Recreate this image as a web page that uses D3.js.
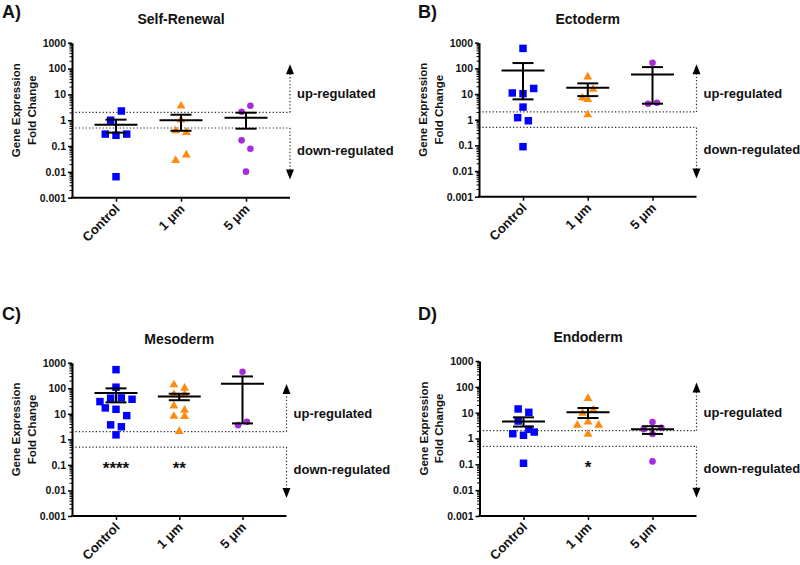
<!DOCTYPE html>
<html><head><meta charset="utf-8">
<script src="https://cdn.jsdelivr.net/npm/d3@7/dist/d3.min.js"></script>
<style>
body{margin:0;background:#fff}
svg text{font-family:"Liberation Sans",Arial,sans-serif;font-weight:bold;fill:#111}
</style>
</head><body>
<svg id="chart" width="800" height="565"></svg>
<script>
// ---------- data ----------
const groups = ["Control", "1 \u03bcm", "5 \u03bcm"];
const yTicks = [1000, 100, 10, 1, 0.1, 0.01, 0.001];
const yTickLabels = ["1000", "100", "10", "1", "0.1", "0.01", "0.001"];
const panelLetters = ["A)", "B)", "C)", "D)"];
const panelTitles = ["Self-Renewal", "Ectoderm", "Mesoderm", "Endoderm"];
const yTitleLines = ["Gene Expression", "Fold Change"];
const upText = "up-regulated", downText = "down-regulated";

// A) Self-Renewal fold changes
const selfRenewalControl = [1.0, 2.27, 0.29, 0.26, 0.29, 0.0065];
const selfRenewal1um = [3.8, 1.1, 0.42, 0.36, 0.03, 0.049];
const selfRenewal5um = [2.13, 3.6, 0.166, 0.079, 0.0102];
const selfRenewalMean = [0.67, 1.0, 1.25];
const selfRenewalHigh = [1.05, 1.63, 1.95];
const selfRenewalLow = [0.33, 0.39, 0.47];
const selfRenewalSig = ["", "", ""];

// B) Ectoderm
const ectodermControl = [600, 11, 10.3, 16.5, 3.1, 1.2, 0.91, 0.089];
const ectoderm1um = [50, 7.6, 6.6, 16.5, 1.7];
const ectoderm5um = [166, 4.2, 4.6];
const ectodermMean = [83, 17.6, 58];
const ectodermHigh = [161, 26, 112];
const ectodermLow = [6.2, 8.3, 4.2];
const ectodermSig = ["", "", ""];

// C) Mesoderm
const mesodermControl = [535, 110, 30, 41, 42, 37, 17, 15, 8.5, 3.7, 3.1, 1.5];
const mesoderm1um = [147, 109, 60, 60, 22, 15, 8.6, 8.5, 2.2];
const mesoderm5um = [440, 3.6, 4.9];
const mesodermMean = [65, 48, 150];
const mesodermHigh = [99, 61, 290];
const mesodermLow = [28, 34, 4.2];
const mesodermSig = ["****", "**", ""];

// D) Endoderm
const endodermControl = [13.9, 10.3, 4.75, 2.27, 1.53, 1.33, 1.78, 0.11];
const endoderm1um = [38, 10.3, 13.9, 3.55, 4.75, 3.55, 1.58];
const endoderm5um = [2.3, 4.35, 2.6, 1.5, 0.13];
const endodermMean = [4.6, 10.3, 2.26];
const endodermHigh = [6.6, 15.2, 3.0];
const endodermLow = [2.9, 6.2, 1.5];
const endodermSig = ["", "*", ""];

// reference lines / annotation levels (fold change)
const upThreshold = 2, downThreshold = 0.5;
const upArrowTip = 146, downArrowTip = 0.0051;
const upLabelAt = 7, downLabelAt = 0.045;
const sigLevel = 0.1;

// ---------- layout ----------
const panels = [
  {letter: panelLetters[0], title: panelTitles[0], data: [selfRenewalControl, selfRenewal1um, selfRenewal5um],
   mean: selfRenewalMean, hi: selfRenewalHigh, lo: selfRenewalLow, sig: selfRenewalSig,
   box: {xl: 72, xr: 290, yt: 42.7, yb: 197.7}, lx: 2, ly: 18.3},
  {letter: panelLetters[1], title: panelTitles[1], data: [ectodermControl, ectoderm1um, ectoderm5um],
   mean: ectodermMean, hi: ectodermHigh, lo: ectodermLow, sig: ectodermSig,
   box: {xl: 479, xr: 696.5, yt: 42.7, yb: 196.7}, lx: 418, ly: 18.3},
  {letter: panelLetters[2], title: panelTitles[2], data: [mesodermControl, mesoderm1um, mesoderm5um],
   mean: mesodermMean, hi: mesodermHigh, lo: mesodermLow, sig: mesodermSig,
   box: {xl: 72, xr: 286.5, yt: 362.7, yb: 516}, lx: 2, ly: 320},
  {letter: panelLetters[3], title: panelTitles[3], data: [endodermControl, endoderm1um, endoderm5um],
   mean: endodermMean, hi: endodermHigh, lo: endodermLow, sig: endodermSig,
   box: {xl: 479.5, xr: 696.5, yt: 361, yb: 516}, lx: 418, ly: 320}
];

const colors = ["#0000ff", "#ff8a10", "#a52ae0"];
const shapes = [d3.symbolSquare, d3.symbolTriangle, d3.symbolCircle];
const shapeSizes = [56, 34, 34];
const spacings = [10.7, 10.7, 8.8];

const svg = d3.select("#chart");

// Prism-like column scatter: rows of close values are spread symmetrically
function columnOffsets(values, y, spacing, rowHeight) {
  const order = values.map((v, i) => i).sort((a, b) => values[b] - values[a]);
  const rows = [];
  let cur = null;
  order.forEach(i => {
    const py = y(values[i]);
    if (cur && py - cur.anchor <= rowHeight) cur.members.push(i);
    else { cur = {anchor: py, members: [i]}; rows.push(cur); }
  });
  const off = new Array(values.length).fill(0);
  rows.forEach(r => {
    r.members.sort((a, b) => a - b);
    const n = r.members.length;
    r.members.forEach((m, k) => off[m] = (k - (n - 1) / 2) * spacing);
  });
  return off;
}

const minorTicks = [];
for (let e = -3; e < 3; e++) for (let m = 2; m <= 9; m++) minorTicks.push(m * Math.pow(10, e));

panels.forEach(p => {
  const {xl, xr, yt, yb} = p.box;
  const g = svg.append("g");
  const y = d3.scaleLog().domain([0.001, 1000]).range([yb, yt]);
  const inset = 44;
  const step = (xr - xl - 2 * inset) / (groups.length - 1);
  const x = d3.scalePoint().domain(groups).range([xl, xr]).padding(inset / step);

  // panel letter & title
  g.append("text").attr("x", p.lx).attr("y", p.ly).style("font-size", "18px").text(p.letter);
  g.append("text").attr("x", (xl + xr) / 2).attr("y", yt - 19).attr("text-anchor", "middle")
    .style("font-size", "14px").text(p.title);

  // y title
  const cy = (yt + yb) / 2 - 10;
  yTitleLines.forEach((t, i) => {
    g.append("text").attr("transform", `translate(${xl - 56 + i * 15.5},${cy}) rotate(-90)`)
      .attr("text-anchor", "middle").attr("dominant-baseline", "central")
      .style("font-size", "11.5px").text(t);
  });

  // threshold dotted lines
  const dot = "1.3,2.1";
  [upThreshold, downThreshold].forEach(v => {
    g.append("line").attr("x1", xl).attr("x2", xr).attr("y1", y(v)).attr("y2", y(v))
      .attr("stroke", "#333").attr("stroke-width", 1.2).attr("stroke-dasharray", dot);
  });
  // arrows
  const ax = xr;
  g.append("line").attr("x1", ax).attr("x2", ax).attr("y1", y(upThreshold)).attr("y2", y(upArrowTip) + 9)
    .attr("stroke", "#333").attr("stroke-width", 1.2).attr("stroke-dasharray", dot);
  g.append("line").attr("x1", ax).attr("x2", ax).attr("y1", y(downThreshold)).attr("y2", y(downArrowTip) - 9)
    .attr("stroke", "#333").attr("stroke-width", 1.2).attr("stroke-dasharray", dot);
  const tu = y(upArrowTip), td = y(downArrowTip);
  g.append("path").attr("d", `M${ax},${tu} L${ax + 4},${tu + 10} L${ax - 4},${tu + 10} Z`).attr("fill", "#000");
  g.append("path").attr("d", `M${ax},${td} L${ax + 4},${td - 10} L${ax - 4},${td - 10} Z`).attr("fill", "#000");
  g.append("text").attr("x", ax + 7).attr("y", y(upLabelAt)).style("font-size", "13px").text(upText);
  g.append("text").attr("x", ax + 7).attr("y", y(downLabelAt)).style("font-size", "13px").text(downText);

  // axes
  const yAxis = g.append("g").attr("transform", `translate(${xl},0)`)
    .call(d3.axisLeft(y).tickValues(yTicks).tickFormat((d, i) => yTickLabels[i]).tickSize(4).tickSizeOuter(0).tickPadding(2));
  yAxis.select(".domain").attr("stroke", "#000").attr("stroke-width", 2);
  yAxis.selectAll(".tick line").attr("stroke", "#000").attr("stroke-width", 1.5);
  yAxis.selectAll(".tick text").style("font-size", "10.5px").style("font-family", "'Liberation Sans',Arial,sans-serif").style("font-weight", "bold");
  const yMinor = g.append("g").attr("transform", `translate(${xl},0)`)
    .call(d3.axisLeft(y).tickValues(minorTicks).tickFormat("").tickSize(2.5).tickSizeOuter(0));
  yMinor.select(".domain").remove();
  yMinor.selectAll(".tick line").attr("stroke", "#000").attr("stroke-width", 1);

  const xAxis = g.append("g").attr("transform", `translate(0,${yb})`)
    .call(d3.axisBottom(x).tickSize(4).tickSizeOuter(0));
  xAxis.select(".domain").attr("stroke", "#000").attr("stroke-width", 2).attr("d", `M${xl - 1},0H${xr}`);
  xAxis.selectAll(".tick line").attr("stroke", "#000").attr("stroke-width", 1.5);
  xAxis.selectAll(".tick text").attr("y", null).attr("dy", null)
    .attr("text-anchor", "end").attr("transform", "translate(4,12) rotate(-45)")
    .style("font-size", "13px").style("font-family", "'Liberation Sans',Arial,sans-serif").style("font-weight", "bold");

  // points
  groups.forEach((grp, gi) => {
    const vals = p.data[gi];
    const off = columnOffsets(vals, y, spacings[gi], 9.5);
    const sym = d3.symbol().type(shapes[gi]).size(shapeSizes[gi]);
    g.append("g").selectAll("path").data(vals).join("path")
      .attr("d", sym)
      .attr("transform", (d, i) => `translate(${x(grp) + off[i]},${y(d) + (gi === 1 ? 0.8 : 0)})`)
      .attr("fill", colors[gi]);
  });

  // mean +/- SEM
  groups.forEach((grp, gi) => {
    const cx = x(grp);
    const s = g.append("g").attr("stroke", "#000").attr("stroke-width", 2);
    s.append("line").attr("x1", cx - 21.5).attr("x2", cx + 21.5).attr("y1", y(p.mean[gi])).attr("y2", y(p.mean[gi]));
    s.append("line").attr("x1", cx).attr("x2", cx).attr("y1", y(p.lo[gi])).attr("y2", y(p.hi[gi]));
    s.append("line").attr("x1", cx - 10.5).attr("x2", cx + 10.5).attr("y1", y(p.hi[gi])).attr("y2", y(p.hi[gi]));
    s.append("line").attr("x1", cx - 10.5).attr("x2", cx + 10.5).attr("y1", y(p.lo[gi])).attr("y2", y(p.lo[gi]));
    if (p.sig[gi]) {
      g.append("text").attr("x", cx).attr("y", y(sigLevel) + 9).attr("text-anchor", "middle")
        .style("font-size", "17px").text(p.sig[gi]);
    }
  });
});
</script>
</body></html>
